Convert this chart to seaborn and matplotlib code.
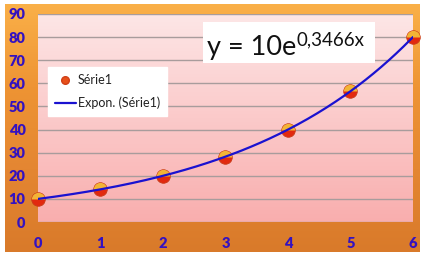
import numpy as np
import pandas as pd
import matplotlib
matplotlib.use('Agg')
import matplotlib.pyplot as plt
import seaborn as sns
from matplotlib.patches import Rectangle
from matplotlib.colors import LinearSegmentedColormap
from matplotlib.lines import Line2D

# ---- data ----
x_vals = [0, 1, 2, 3, 4, 5, 6]
y_vals = [10, 14.1, 20, 28.3, 40, 56.6, 80]
series_name = 'Série1'
trend_name = 'Expon. (Série1)'
equation_main = 'y = 10e'
equation_exp = '0,3466x'
y_ticks = [0, 10, 20, 30, 40, 50, 60, 70, 80, 90]
x_ticks = [0, 1, 2, 3, 4, 5, 6]

sns.set_theme(style='white')
plt.rcParams['font.family'] = ['Lato', 'DejaVu Sans']

W, H = 427, 260
fig = plt.figure(figsize=(W / 100, H / 100), dpi=100)
fig.patch.set_facecolor('white')

def fx(px):
    return px / W

def fy(py):
    return 1 - py / H

grad = np.linspace(0, 1, 256).reshape(-1, 1)

# orange chart frame
bg = fig.add_axes([fx(5), fy(252), fx(420) - fx(5), fy(4) - fy(252)])
bg.axis('off')
cmap_o = LinearSegmentedColormap.from_list('o', ['#FAB048', '#EE9434', '#E48632', '#D97A2A'])
bg.imshow(grad, aspect='auto', cmap=cmap_o, extent=[0, 1, 0, 1], origin='upper')
bg.set_xlim(0, 1); bg.set_ylim(0, 1)

# plot area
ax = fig.add_axes([fx(38), fy(222), fx(413) - fx(38), fy(14) - fy(222)], zorder=1)
cmap_p = LinearSegmentedColormap.from_list('p', ['#FDE6E6', '#F9AEAE'])
ax.imshow(grad, aspect='auto', cmap=cmap_p, extent=[0, 1, 0, 1], origin='upper',
          transform=ax.transAxes, zorder=-1)

# trend line from exponential fit of the data
coef = np.polyfit(x_vals, np.log(y_vals), 1)
xs = np.linspace(min(x_vals), max(x_vals), 200)
trend_df = pd.DataFrame({'x': xs, 'y': np.exp(coef[1]) * np.exp(coef[0] * xs)})
df = pd.DataFrame({'x': x_vals, 'y': y_vals})

sns.scatterplot(data=df, x='x', y='y', ax=ax, s=95, color='#E2290F',
                edgecolor='#C83A18', linewidth=0.6, zorder=3, clip_on=False, legend=False)
ax.plot(df['x'], df['y'], linestyle='none', marker='o', ms=9.6, fillstyle='top',
        markerfacecolor='#F2B436', markeredgewidth=0, zorder=4, clip_on=False)
sns.lineplot(data=trend_df, x='x', y='y', ax=ax, color='#1A12D0', lw=1.6,
             zorder=5, legend=False)

ax.set_xlim(0, 6)
ax.set_ylim(0, 90)
ax.set_xticks(x_ticks)
ax.set_yticks(y_ticks)
ax.set_xlabel('')
ax.set_ylabel('')
ax.grid(False)
ax.yaxis.grid(True, color='#A89C9C', lw=1)
ax.set_axisbelow(True)
for s in ax.spines.values():
    s.set_visible(False)
ax.tick_params(axis='both', length=0, labelcolor='#3412C0', labelsize=10.5)
ax.tick_params(axis='y', pad=9)
ax.tick_params(axis='x', pad=11)
for lab in ax.get_xticklabels() + ax.get_yticklabels():
    lab.set_fontweight('heavy')

# legend
handles = [
    Line2D([], [], linestyle='none', marker='o', ms=5.5, markerfacecolor='#E8501A',
           markeredgecolor='#D04018'),
    Line2D([], [], color='#1A12D0', lw=1.6),
]
leg = ax.legend(handles, [series_name, trend_name], loc='upper left',
                bbox_to_anchor=(fx(48), fy(67)), bbox_transform=fig.transFigure,
                borderaxespad=0, frameon=True, facecolor='white', edgecolor='white',
                fancybox=False, framealpha=1, fontsize=9, handlelength=1.7,
                handletextpad=0.15, borderpad=0.55, labelspacing=0.85)
for t in leg.get_texts():
    t.set_color('#222222')

# equation box
fig.patches.append(Rectangle((fx(203), fy(63)), fx(375) - fx(203), fy(22) - fy(63),
                             transform=fig.transFigure, facecolor='white',
                             edgecolor='none', zorder=5))
t1 = fig.text(fx(207), fy(55), equation_main, fontsize=19.5, color='#111111',
              va='baseline', ha='left', zorder=6)
fig.canvas.draw()
bb = t1.get_window_extent()
fig.text(bb.x1 / W + fx(0.5), fy(45), equation_exp, fontsize=13.5, color='#111111',
         va='baseline', ha='left', zorder=6)

fig.savefig('out.png', dpi=100, facecolor='white')
